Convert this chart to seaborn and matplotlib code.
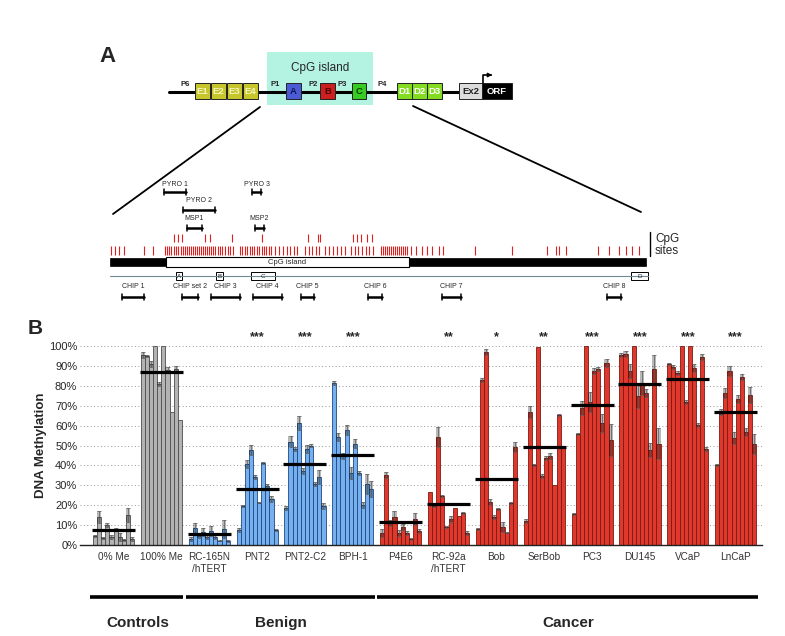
import numpy as np
import pandas as pd
import seaborn as sns
import matplotlib.pyplot as plt
from matplotlib.patches import Rectangle
from matplotlib.transforms import blended_transform_factory

# ---- panel B data: % methylation for 10 CpG sites in each sample ----
cell_lines = ["0% Me", "100% Me", "RC-165N\n/hTERT", "PNT2", "PNT2-C2", "BPH-1",
              "P4E6", "RC-92a\n/hTERT", "Bob", "SerBob", "PC3", "DU145", "VCaP", "LnCaP"]
line_class = ["Controls"] * 2 + ["Benign"] * 4 + ["Cancer"] * 8

me0 = [4.5, 14, 3.5, 10, 4, 8, 4, 2.5, 15, 3]
me100 = [95.5, 95, 91, 100, 81, 100, 88, 67, 88.5, 63]
rc165n = [3.2, 8.4, 4.3, 6.7, 4.0, 7.1, 4.2, 2.2, 8.0, 2.2]
pnt2 = [7.5, 19.8, 40.7, 47.7, 34, 21.3, 41, 29.8, 23, 7.5]
pnt2c2 = [18.4, 52, 48, 61.5, 37.2, 48.4, 50, 30.5, 34.3, 19.8]
bph1 = [81.6, 54.4, 44.7, 57.8, 36.3, 51, 36, 20, 30.6, 28]
p4e6 = [6.2, 35.2, 10.9, 13.9, 5.9, 8.9, 6.2, 3, 12.9, 7.2]
rc92a = [26.8, 19.8, 54.4, 24.8, 9.2, 13, 18.8, 14.7, 15.9, 5.9]
bob = [8, 83, 97.2, 21.4, 14.2, 18, 8.9, 6.2, 21, 49.4]
serbob = [12.2, 67, 40.2, 99.7, 34.8, 43.6, 44.7, 30.2, 65.3, 49.1]
pc3 = [15.4, 55.8, 68.7, 100, 72, 87.6, 88.3, 61.1, 91.6, 52.8]
du145 = [95.5, 96, 87.6, 100, 74.9, 81.6, 76.2, 47.7, 88.3, 51]
vcap = [91.1, 89.6, 86.6, 100, 72, 100, 88.8, 60.3, 94.3, 48.1]
lncap = [40.2, 67, 76.2, 87.6, 53.9, 73.4, 84.6, 57, 75.4, 50.6]

err_me0 = [0.5, 3, 0.5, 1, 1, 0.5, 2, 0.3, 3.5, 1]
err_me100 = [1.5, 0.5, 1.5, 0, 1, 0, 1.5, 0, 1.5, 0]
err_rc165n = [1, 2.5, 1, 2, 1, 2.5, 1, 0.3, 4.5, 0.5]
err_pnt2 = [1, 0.5, 2, 2.5, 1, 0.3, 0.5, 1, 1.5, 0.3]
err_pnt2c2 = [1, 3, 1, 3.5, 1.5, 2, 1, 1, 3.5, 1.5]
err_bph1 = [1, 2, 1.5, 2.5, 3, 2.5, 1, 1.5, 5, 4]
err_p4e6 = [2, 1.5, 1.5, 3, 1.5, 1.5, 1, 0.3, 3, 1]
err_rc92a = [0, 0.5, 5, 0.5, 0.5, 1.5, 0, 0, 0.5, 1]
err_bob = [0.3, 1, 1.5, 1.5, 1, 0.5, 2.5, 0.3, 0.5, 2.5]
err_serbob = [1, 3, 0.5, 0, 1, 1, 1.5, 0, 0.3, 0.5]
err_pc3 = [0.5, 0.5, 3.5, 0, 5, 1.5, 1, 4.5, 2, 8]
err_du145 = [1, 1.5, 3.5, 0, 6, 6, 2, 3.5, 7, 8]
err_vcap = [0.5, 1, 1, 0, 1, 0, 2, 1, 1.5, 1]
err_lncap = [0.5, 1.5, 2.5, 2.5, 3, 2, 1.5, 2, 4, 5]

group_means = [7.4, 87, 5.5, 28, 40.5, 45, 11.6, 20.8, 33.3, 49.4, 70.2, 80.7, 83.6, 67]
stars = ["", "", "", "***", "***", "***", "", "**", "*", "**", "***", "***", "***", "***"]
class_spans = [("Controls", 0, 1), ("Benign", 2, 5), ("Cancer", 6, 13)]

values = [me0, me100, rc165n, pnt2, pnt2c2, bph1, p4e6, rc92a, bob, serbob, pc3, du145, vcap, lncap]
errors = [err_me0, err_me100, err_rc165n, err_pnt2, err_pnt2c2, err_bph1, err_p4e6,
          err_rc92a, err_bob, err_serbob, err_pc3, err_du145, err_vcap, err_lncap]

rows = []
for name, vals, errs in zip(cell_lines, values, errors):
    for k, (v, e) in enumerate(zip(vals, errs)):
        rows.append({"line": name, "site": k + 1, "meth": v, "err": e})
df = pd.DataFrame(rows)

face = {"Controls": "#b3b3b3", "Benign": "#77b0ee", "Cancer": "#e0382c"}
edge = {"Controls": "#4d4d4d", "Benign": "#1d4a86", "Cancer": "#7a1a12"}

sns.set_style("white")
plt.rcParams["font.family"] = ["Liberation Sans", "DejaVu Sans"]

fig = plt.figure(figsize=(7.85, 6.36), dpi=100)
ax = fig.add_axes([80 / 785, 91 / 636, 682 / 785, 199 / 636])

sns.barplot(data=df, x="line", y="meth", hue="site", order=cell_lines, dodge=True,
            width=0.86, errorbar=None, legend=False, linewidth=0.5, ax=ax)

bar_containers = list(ax.containers)
for k, cont in enumerate(bar_containers):
    for j, bar in enumerate(cont):
        cls = line_class[j]
        bar.set_facecolor(face[cls])
        bar.set_edgecolor(edge[cls])
        bar.set_linewidth(0.6)
        v = values[j][k]
        e = errors[j][k]
        if e > 0:
            xc = bar.get_x() + bar.get_width() / 2
            ax.bar(xc, 2 * e, bottom=v - e, width=bar.get_width(), color="black",
                   alpha=0.28, linewidth=0, zorder=3)
            ax.errorbar(xc, v, yerr=e, fmt="none", ecolor="0.35", elinewidth=0.5,
                        capsize=1.2, capthick=0.5, zorder=4)

for j, m in enumerate(group_means):
    ax.hlines(m, j - 0.45, j + 0.45, color="black", lw=2.3, zorder=5)
    if stars[j]:
        ax.text(j, 101.5, stars[j], ha="center", va="bottom", fontsize=9,
                fontweight="bold", clip_on=False)

ax.set_xlim(-0.7, 13.55)
ax.set_ylim(0, 100)
ax.set_yticks(range(0, 101, 10))
ax.set_yticklabels([f"{t}%" for t in range(0, 101, 10)], fontsize=8)
ax.tick_params(axis="x", labelsize=7.2, length=0, pad=5, colors="#333333")
ax.tick_params(axis="y", length=0, pad=2)
ax.yaxis.grid(True, linestyle=(0, (1, 2.5)), color="#999999", lw=0.7)
ax.set_axisbelow(True)
ax.set_xlabel("")
ax.set_ylabel("DNA Methylation", fontsize=9.5, fontweight="bold")
ax.yaxis.set_label_coords(-0.048, 0.5)
for s in ["top", "right", "left"]:
    ax.spines[s].set_visible(False)
ax.spines["bottom"].set_color("#222222")
ax.spines["bottom"].set_linewidth(1.0)

trans = blended_transform_factory(ax.transData, ax.transAxes)
for label, a, b in class_spans:
    ax.plot([a - 0.49, b + 0.46], [-0.262, -0.262], color="black", lw=2.6,
            transform=trans, clip_on=False, solid_capstyle="butt")
    ax.text((a + b) / 2, -0.39, label, transform=trans, ha="center", va="center",
            fontsize=11, fontweight="bold")

fig.text(35 / 785, 1 - 328 / 636, "B", fontsize=15, fontweight="bold", ha="center", va="center")

# ---- panel A: gene diagram drawn in pixel-like coordinates ----
axa = fig.add_axes([0, 1 - 320 / 636, 1, 320 / 636])
axa.set_xlim(0, 785)
axa.set_ylim(320, 0)
axa.axis("off")

axa.text(107, 56, "A", fontsize=16, fontweight="bold", ha="center", va="center")
axa.add_patch(Rectangle((267, 52), 106, 53, facecolor="#b4f3e1", edgecolor="none"))
axa.text(320, 68, "CpG island", fontsize=8.5, ha="center", va="center")
axa.plot([169, 460], [92, 92], color="black", lw=2.2, zorder=1)

exon_boxes = [("E1", 195, 210, "#c6c62c", "#f4f4c0"), ("E2", 211, 226, "#c6c62c", "#f4f4c0"),
              ("E3", 227, 242, "#c6c62c", "#f4f4c0"), ("E4", 243, 258, "#c6c62c", "#f4f4c0"),
              ("A", 286, 301, "#4b5bd6", "#101850"), ("B", 320, 335, "#cc1f1f", "#4a0505"),
              ("C", 352, 366, "#36cc22", "#0b3b05"), ("D1", 397, 412, "#84dc22", "white"),
              ("D2", 412, 427, "#84dc22", "white"), ("D3", 427, 442, "#84dc22", "white"),
              ("Ex2", 459, 482, "#dcdcdc", "#222222"), ("ORF", 482, 512, "black", "white")]
for lab, x0, x1, fc, tc in exon_boxes:
    axa.add_patch(Rectangle((x0, 83), x1 - x0, 16, facecolor=fc, edgecolor="#222222",
                            lw=0.7, zorder=2))
    axa.text((x0 + x1) / 2, 91.5, lab, fontsize=6.8, fontweight="bold", color=tc,
             ha="center", va="center", zorder=3)
for lab, x in [("P6", 185), ("P1", 275), ("P2", 313), ("P3", 342), ("P4", 382)]:
    axa.text(x, 85, lab, fontsize=5.5, fontweight="bold", ha="center", va="center")
axa.plot([483, 483, 489], [83, 75, 75], color="black", lw=1.2)
axa.annotate("", xy=(495, 75), xytext=(488, 75),
             arrowprops=dict(arrowstyle="-|>", color="black", lw=1, mutation_scale=6))

axa.plot([260, 113], [107, 214], color="black", lw=1.3)
axa.plot([413, 641], [106, 212], color="black", lw=1.3)

def bracket(x0, x1, y, lw=1.8, h=3.2):
    axa.plot([x0, x1], [y, y], color="black", lw=lw)
    axa.plot([x0, x0], [y - h, y + h], color="black", lw=1.1)
    axa.plot([x1, x1], [y - h, y + h], color="black", lw=1.1)

primers = [("PYRO 1", 164, 186, 192, 184), ("PYRO 2", 183, 215, 210, 201),
           ("MSP1", 187, 202, 228, 218), ("PYRO 3", 252, 261, 192, 184),
           ("MSP2", 255, 264, 228, 218)]
for lab, x0, x1, yb, yt in primers:
    bracket(x0, x1, yb)
    axa.text((x0 + x1) / 2, yt, lab, fontsize=5, ha="center", va="center")

cpg_upper = [174, 178, 182, 205, 210, 232, 262, 308, 318, 320, 353, 357, 361, 367, 372]
cpg_lower = [111, 115, 119, 124, 144, 153,
             165, 167, 169, 171, 174, 176, 178, 181, 183, 185, 187, 189, 191, 193, 195,
             197, 199, 201, 203, 205, 207, 209, 211, 213, 215, 218, 220, 222, 225, 228,
             230, 233, 240, 242, 245, 247, 250, 252, 254, 257, 259, 262, 264, 266, 269,
             271, 275, 279, 283, 287, 290, 294, 297, 305, 309, 312, 316, 319, 325, 329,
             333, 337, 341, 345, 351, 355, 358, 362, 366, 369, 373, 381, 383, 385, 387,
             389, 391, 393, 395, 397, 399, 401, 403, 405, 407, 411, 416, 422, 427, 432,
             439, 443, 475, 512, 547, 556, 559, 566, 598, 609, 619, 626, 632, 639]
axa.vlines(cpg_upper, 234, 242, color="#e02020", lw=0.8)
axa.vlines(cpg_lower, 246, 255, color="#e02020", lw=0.8)
axa.plot([650, 650], [232, 256], color="black", lw=1)
axa.text(655, 239, "CpG", fontsize=8.5, ha="left", va="center")
axa.text(655, 251, "sites", fontsize=8.5, ha="left", va="center")

axa.add_patch(Rectangle((110, 258), 536, 8, facecolor="black", edgecolor="black", lw=0.5))
axa.add_patch(Rectangle((166, 257), 243, 10, facecolor="white", edgecolor="black", lw=0.8))
axa.text(287, 262, "CpG island", fontsize=5.5, ha="center", va="center")
axa.plot([110, 648], [276, 276], color="#6f8a94", lw=0.8)
for lab, x0, x1 in [("A", 176, 182), ("B", 216, 223), ("C", 251, 275), ("D", 631, 648)]:
    axa.add_patch(Rectangle((x0, 272), x1 - x0, 8, facecolor="white", edgecolor="black",
                            lw=0.7))
    axa.text((x0 + x1) / 2, 276, lab, fontsize=4.5, ha="center", va="center")

chips = [("CHIP 1", 122, 144), ("CHIP set 2", 182, 198), ("CHIP 3", 211, 240),
         ("CHIP 4", 253, 282), ("CHIP 5", 301, 314), ("CHIP 6", 368, 382),
         ("CHIP 7", 442, 461), ("CHIP 8", 607, 621)]
for lab, x0, x1 in chips:
    bracket(x0, x1, 297)
    axa.text((x0 + x1) / 2, 287, lab, fontsize=5, ha="center", va="center")

fig.savefig("out.png", dpi=100)
